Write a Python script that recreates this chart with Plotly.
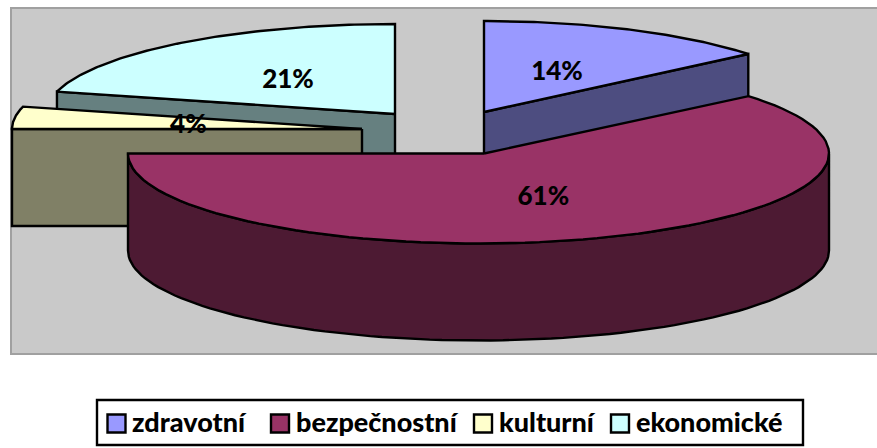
import math
import plotly.graph_objects as go

categories = ["zdravotní", "bezpečnostní", "kulturní", "ekonomické"]
values = [14, 61, 4, 21]
top_colors = ["#9999FF", "#993366", "#FFFFCC", "#CCFFFF"]
side_colors = ["#4D4D80", "#4D1A33", "#808066", "#668080"]

# pie geometry, in the hidden axes' units
apex = [(484, 112), (484, 153.5), (362, 129), (395, 114)]
ell_cx = [484, 478.5, 362, 395]
ell_cy = [112, 153.5, 129, 114]
rx = [343, 350.5, 350, 349]
ry = [91, 90, 90, 90]
depth = 97
draw_order = [3, 2, 0, 1]
FONT = "Lato"

# legend layout, in the same units
legend_swatch_x = [116.5, 280, 483, 620]
legend_text_x = [132, 296, 499, 636]
legend_y = 423.5

total = sum(values)
starts, acc = [], 0
for v in values:
    starts.append(acc)
    acc += v


def arc(i, a0, a1, n=90):
    pts = []
    for k in range(n + 1):
        t = math.radians(a0 + (a1 - a0) * k / n)
        pts.append((ell_cx[i] + rx[i] * math.sin(t), ell_cy[i] - ry[i] * math.cos(t)))
    return pts


def poly(pts, fill, name=None):
    xs = [p[0] for p in pts] + [pts[0][0]]
    ys = [p[1] for p in pts] + [pts[0][1]]
    return go.Scatter(x=xs, y=ys, mode="lines", fill="toself", fillcolor=fill,
                      line=dict(color="black", width=2.4), hoverinfo="skip",
                      showlegend=False, name=name)


fig = go.Figure()
for i in draw_order:
    a0 = 360 * starts[i] / total
    a1 = 360 * (starts[i] + values[i]) / total
    top = arc(i, a0, a1)
    ax, ay = apex[i]
    # outer wall: only the part of the rim facing the viewer
    lo, hi = max(a0, 90), min(a1, 270)
    if hi > lo:
        rim = arc(i, lo, hi)
        wall = rim + [(x, y + depth) for x, y in reversed(rim)]
        fig.add_trace(poly(wall, side_colors[i]))
    # cut faces: only those turned towards the viewer
    if math.sin(math.radians(a0)) < -1e-6:
        p = top[0]
        fig.add_trace(poly([(ax, ay), p, (p[0], p[1] + depth), (ax, ay + depth)], side_colors[i]))
    if math.sin(math.radians(a1)) > 1e-6:
        p = top[-1]
        fig.add_trace(poly([(ax, ay), p, (p[0], p[1] + depth), (ax, ay + depth)], side_colors[i]))
    fig.add_trace(poly([(ax, ay)] + top, top_colors[i], name=categories[i]))

# percentage labels at half radius of each slice's middle
lx, ly, lt = [], [], []
for i in range(len(values)):
    mid = math.radians(360 * (starts[i] + values[i] / 2) / total)
    lx.append(apex[i][0] + 0.5 * rx[i] * math.sin(mid))
    ly.append(apex[i][1] - 0.5 * ry[i] * math.cos(mid) + 3)
    lt.append(f"{values[i]}%")
fig.add_trace(go.Scatter(x=lx, y=ly, text=lt, mode="text", showlegend=False, hoverinfo="skip",
                         textposition="middle center",
                         textfont=dict(family=FONT, size=26, color="black", weight=900)))

# legend, drawn as swatches and text so the swatch size can match
fig.add_trace(go.Scatter(x=legend_swatch_x, y=[legend_y] * len(categories), mode="markers",
                         showlegend=False, hoverinfo="skip",
                         marker=dict(symbol="square", size=18, color=top_colors,
                                     line=dict(color="black", width=2.4))))
fig.add_trace(go.Scatter(x=legend_text_x, y=[legend_y + 1.5] * len(categories), mode="text",
                         text=categories, showlegend=False, hoverinfo="skip",
                         textposition="middle right",
                         textfont=dict(family=FONT, size=27, color="black", weight=900)))

fig.update_layout(
    width=877, height=448, margin=dict(l=0, r=0, t=0, b=0),
    paper_bgcolor="white", plot_bgcolor="white",
    xaxis=dict(range=[0, 877], visible=False, fixedrange=True),
    yaxis=dict(range=[448, 0], visible=False, fixedrange=True),
    shapes=[
        dict(type="rect", layer="below", x0=11, x1=890, y0=8, y1=354,
             fillcolor="#C9C9C9", line=dict(color="#A0A0A0", width=2)),
        dict(type="rect", layer="below", x0=97, x1=803, y0=400, y1=445,
             fillcolor="white", line=dict(color="black", width=2.4)),
    ],
    showlegend=False,
)
fig.write_html("out.html", config={"displayModeBar": False},
               post_script="document.body.style.margin='0';document.documentElement.style.overflow='hidden';")
